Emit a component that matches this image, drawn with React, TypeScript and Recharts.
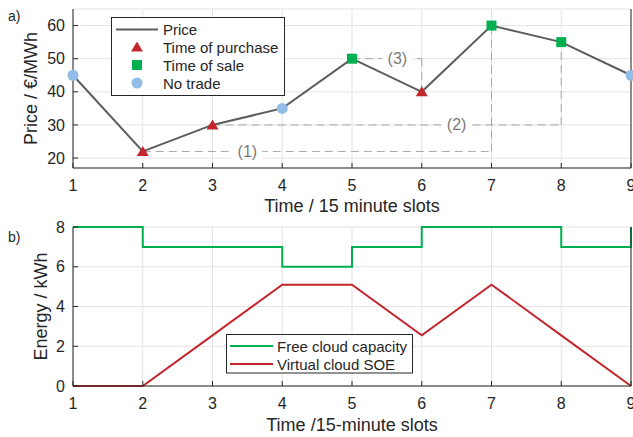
import React from 'react';
import {
  ComposedChart,
  LineChart,
  Line,
  XAxis,
  YAxis,
  CartesianGrid,
  ReferenceLine,
  ReferenceDot,
  Legend,
} from 'recharts';

// ---------- data ----------
const slots = [1, 2, 3, 4, 5, 6, 7, 8, 9];
const price = [45, 22, 30, 35, 50, 40, 60, 55, 45];
const tradeType = ['none', 'buy', 'buy', 'none', 'sell', 'buy', 'sell', 'sell', 'none'];
const tradePairs = [
  [2, 7],
  [3, 8],
  [5, 6],
];
const tradeLabels = ['(1)', '(2)', '(3)'];
const tradeLabelSlots = [3.5, 6.5, 5.65];
const priceTicks = [20, 30, 40, 50, 60];
const priceLegendNames = ['Price', 'Time of purchase', 'Time of sale', 'No trade'];

const freeCapacity = [8, 7, 7, 6, 7, 8, 8, 7, 8];
const virtualSoe = [0, 0, 2.55, 5.1, 5.1, 2.55, 5.1, 2.55, 0];
const energyTicks = [0, 2, 4, 6, 8];
const energyLegendNames = ['Free cloud capacity', 'Virtual cloud SOE'];

const topXLabel = 'Time / 15 minute slots';
const bottomXLabel = 'Time /15-minute slots';
const topYLabel = 'Price / €/MWh';
const bottomYLabel = 'Energy / kWh';

// ---------- styles ----------
const FONT = '"Liberation Sans", Arial, Helvetica, sans-serif';
const AXIS = '#262626';
const GRID = '#e3e3e3';
const PRICE_LINE = '#5c5c5c';
const RED = '#c4262e';
const GREEN = '#00b050';
const BLUE = '#92bde9';
const DASH = '#a8a8a8';
const LABEL_GRAY = '#7a7a7a';

const priceRows = slots.map((s, i) => ({ slot: s, price: price[i], type: tradeType[i] }));
const energyRows = slots.map((s, i) => ({ slot: s, cap: freeCapacity[i], soe: virtualSoe[i] }));

const tickStyle = { fill: AXIS, fontSize: 16, fontFamily: FONT };
const axisLabelStyle = { fill: AXIS, fontSize: 18, fontFamily: FONT, textAnchor: 'middle' as const };

const Marker = ({ type, cx, cy }: { type: string; cx: number; cy: number }) => {
  if (type === 'buy') {
    return (
      <polygon
        points={`${cx},${cy - 5.5} ${cx + 6},${cy + 4.5} ${cx - 6},${cy + 4.5}`}
        fill={RED}
      />
    );
  }
  if (type === 'sell') {
    return <rect x={cx - 5} y={cy - 5} width={10} height={10} fill={GREEN} />;
  }
  return <circle cx={cx} cy={cy} r={5.5} fill={BLUE} />;
};

const PriceDot = (props: any) => {
  const { cx, cy, index } = props;
  return (
    <g key={`dot-${index}`}>
      <Marker type={tradeType[index]} cx={cx} cy={cy} />
    </g>
  );
};

const LabelBox = (text: string) => (props: any) => {
  const { cx, cy } = props;
  return (
    <g>
      <rect x={cx - 15} y={cy - 8} width={30} height={16} fill="#fff" />
      <text
        x={cx}
        y={cy}
        textAnchor="middle"
        dominantBaseline="central"
        fill={LABEL_GRAY}
        fontSize={16}
        fontFamily={FONT}
      >
        {text}
      </text>
    </g>
  );
};

const PriceLegend = () => {
  const rows = [12.5, 30, 48, 66];
  const types = ['line', 'buy', 'sell', 'none'];
  return (
    <svg width={174} height={80} style={{ display: 'block' }}>
      <rect x={0.5} y={0.5} width={173} height={78} fill="#fff" stroke={AXIS} strokeWidth={1} />
      {priceLegendNames.map((name, i) => (
        <g key={name}>
          {types[i] === 'line' ? (
            <line x1={5} x2={47} y1={rows[i]} y2={rows[i]} stroke={PRICE_LINE} strokeWidth={2} />
          ) : (
            <Marker type={types[i]} cx={26} cy={rows[i]} />
          )}
          <text
            x={52}
            y={rows[i]}
            dominantBaseline="central"
            fontSize={15}
            fontFamily={FONT}
            fill={AXIS}
          >
            {name}
          </text>
        </g>
      ))}
    </svg>
  );
};

const EnergyLegend = () => {
  const rows = [12, 30];
  const colors = [GREEN, RED];
  return (
    <svg width={188} height={40} style={{ display: 'block' }}>
      <rect x={0.5} y={0.5} width={186} height={38.5} fill="#fff" stroke={AXIS} strokeWidth={1} />
      {energyLegendNames.map((name, i) => (
        <g key={name}>
          <line x1={4} x2={47} y1={rows[i]} y2={rows[i]} stroke={colors[i]} strokeWidth={2} />
          <text
            x={51}
            y={rows[i]}
            dominantBaseline="central"
            fontSize={15}
            fontFamily={FONT}
            fill={AXIS}
          >
            {name}
          </text>
        </g>
      ))}
    </svg>
  );
};

export default function App() {
  return (
    <div
      style={{
        position: 'fixed',
        left: 0,
        top: 0,
        width: 633,
        height: 437,
        overflow: 'hidden',
        background: '#fff',
        fontFamily: FONT,
      }}
    >
      <div style={{ position: 'absolute', left: 0, top: 0 }}>
        <ComposedChart
          width={640}
          height={215}
          data={priceRows}
          margin={{ top: 9, right: 0, bottom: 0, left: 0 }}
        >
          <CartesianGrid stroke={GRID} strokeWidth={1} />
          <XAxis
            dataKey="slot"
            type="number"
            domain={[1, 9]}
            ticks={slots}
            height={47}
            stroke={AXIS}
            tickSize={-5}
            tickMargin={17}
            tick={tickStyle}
            label={{ value: topXLabel, position: 'insideTop', offset: 31, style: axisLabelStyle }}
          />
          <XAxis
            xAxisId="t"
            orientation="top"
            type="number"
            domain={[1, 9]}
            ticks={slots}
            height={0}
            stroke={AXIS}
            tickSize={-5}
            tick={false}
          />
          <YAxis
            type="number"
            domain={[17, 65]}
            ticks={priceTicks}
            width={73}
            stroke={AXIS}
            tickSize={-5}
            tickMargin={13}
            tick={tickStyle}
            label={{
              value: topYLabel,
              angle: -90,
              position: 'insideLeft',
              offset: 31,
              style: axisLabelStyle,
            }}
          />
          <YAxis
            yAxisId="r"
            orientation="right"
            type="number"
            domain={[17, 65]}
            ticks={priceTicks}
            width={9}
            stroke={AXIS}
            tickSize={-5}
            tick={false}
          />
          {tradePairs.map(([a, b], i) => (
            <ReferenceLine
              key={`h${i}`}
              segment={[
                { x: a, y: price[a - 1] },
                { x: b, y: price[a - 1] },
              ]}
              stroke={DASH}
              strokeWidth={1}
              strokeDasharray="8 5"
            />
          ))}
          {tradePairs.map(([a, b], i) => (
            <ReferenceLine
              key={`v${i}`}
              segment={[
                { x: b, y: price[a - 1] },
                { x: b, y: price[b - 1] },
              ]}
              stroke={DASH}
              strokeWidth={1}
              strokeDasharray="8 5"
            />
          ))}
          {tradePairs.map(([a], i) => (
            <ReferenceDot
              key={`l${i}`}
              x={tradeLabelSlots[i]}
              y={price[a - 1]}
              r={0}
              shape={LabelBox(tradeLabels[i])}
            />
          ))}
          <Line
            dataKey="price"
            stroke={PRICE_LINE}
            strokeWidth={2}
            dot={PriceDot}
            activeDot={false}
            isAnimationActive={false}
          />
          <Legend
            layout="vertical"
            align="center"
            verticalAlign="middle"
            content={<PriceLegend />}
            wrapperStyle={{ left: 111, top: 17, width: 174, height: 80 }}
          />
        </ComposedChart>
      </div>

      <div style={{ position: 'absolute', left: 0, top: 215 }}>
        <LineChart
          width={640}
          height={222}
          data={energyRows}
          margin={{ top: 12, right: 0, bottom: 0, left: 0 }}
        >
          <CartesianGrid stroke={GRID} strokeWidth={1} />
          <XAxis
            dataKey="slot"
            type="number"
            domain={[1, 9]}
            ticks={slots}
            height={51}
            stroke={AXIS}
            tickSize={-5}
            tickMargin={17}
            tick={tickStyle}
            label={{ value: bottomXLabel, position: 'insideTop', offset: 32, style: axisLabelStyle }}
          />
          <XAxis
            xAxisId="t"
            orientation="top"
            type="number"
            domain={[1, 9]}
            ticks={slots}
            height={0}
            stroke={AXIS}
            tickSize={-5}
            tick={false}
          />
          <YAxis
            type="number"
            domain={[0, 8]}
            ticks={energyTicks}
            width={73}
            stroke={AXIS}
            tickSize={-5}
            tickMargin={13}
            tick={tickStyle}
            label={{
              value: bottomYLabel,
              angle: -90,
              position: 'insideLeft',
              offset: 41,
              style: axisLabelStyle,
            }}
          />
          <YAxis
            yAxisId="r"
            orientation="right"
            type="number"
            domain={[0, 8]}
            ticks={energyTicks}
            width={9}
            stroke={AXIS}
            tickSize={-5}
            tick={false}
          />
          <Line
            dataKey="cap"
            type="stepAfter"
            stroke={GREEN}
            strokeWidth={2}
            dot={false}
            activeDot={false}
            isAnimationActive={false}
          />
          <Line
            dataKey="soe"
            type="linear"
            stroke={RED}
            strokeWidth={2}
            dot={false}
            activeDot={false}
            isAnimationActive={false}
          />
          <Legend
            layout="vertical"
            align="center"
            verticalAlign="middle"
            content={<EnergyLegend />}
            wrapperStyle={{ left: 226, top: 119, width: 188, height: 40 }}
          />
        </LineChart>
      </div>

      <svg
        width={40}
        height={437}
        style={{ position: 'absolute', left: 0, top: 0, pointerEvents: 'none' }}
      >
        <text x={8} y={21} fontSize={14} fontFamily={FONT} fill={AXIS}>
          a)
        </text>
        <text x={8} y={242} fontSize={14} fontFamily={FONT} fill={AXIS}>
          b)
        </text>
      </svg>
    </div>
  );
}
